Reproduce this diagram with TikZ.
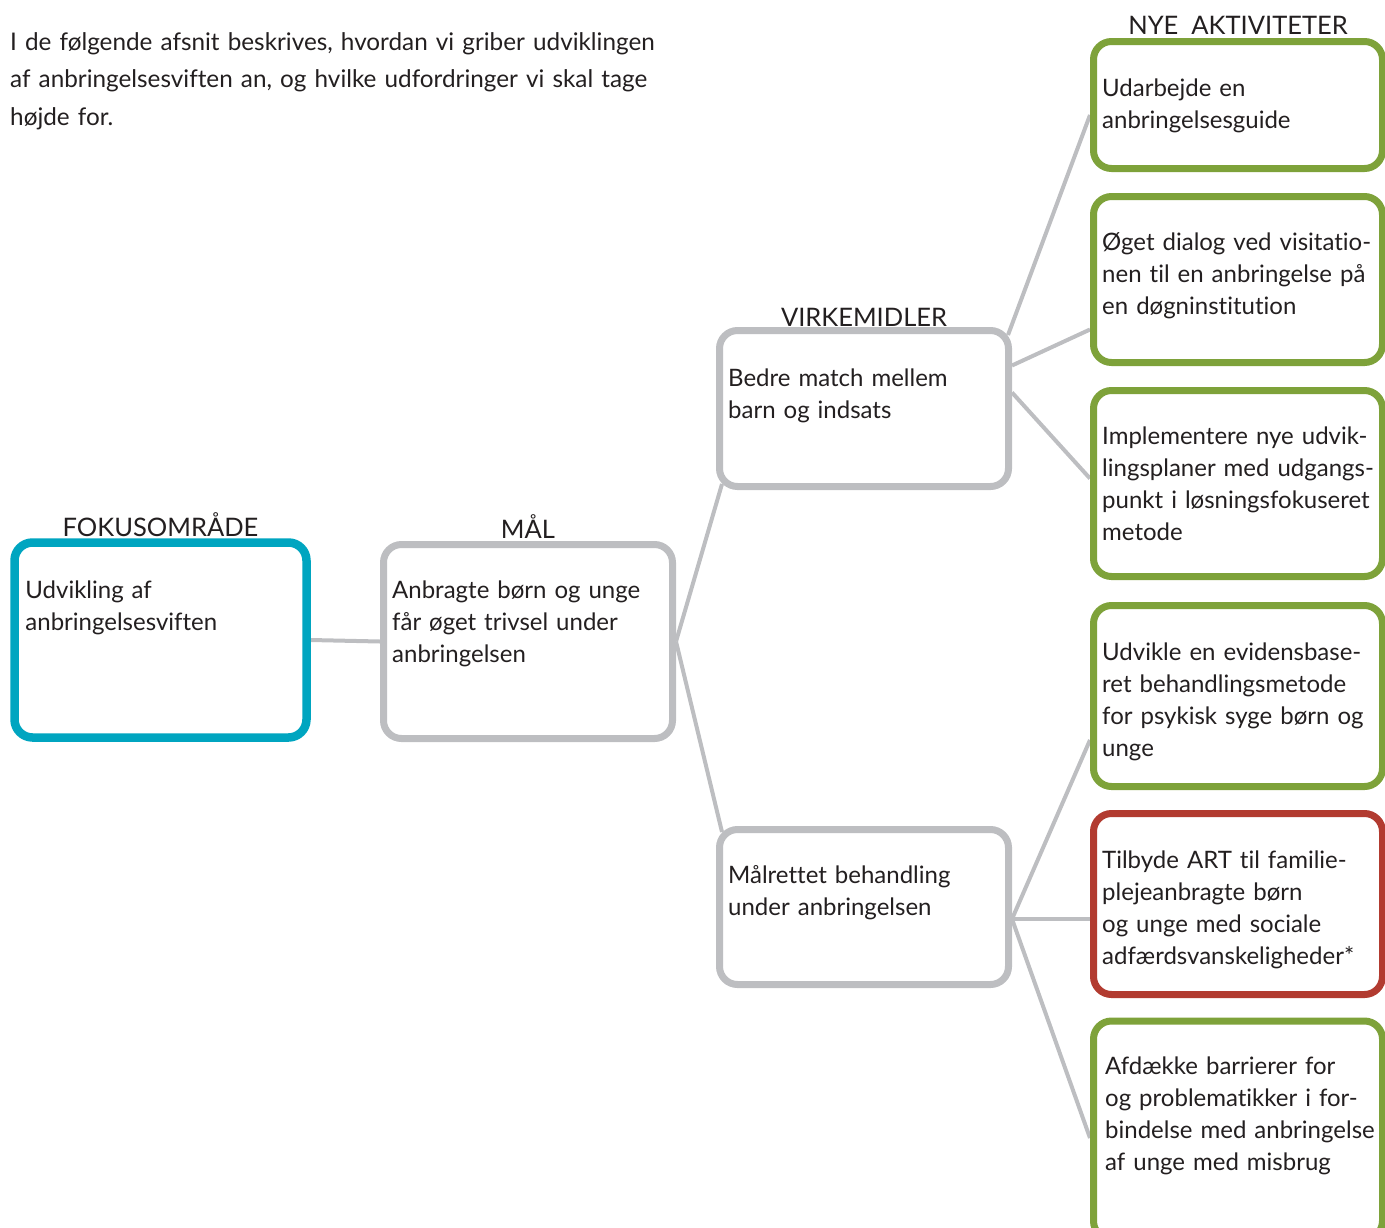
\documentclass[tikz,border=0pt]{standalone}
\usepackage{fontspec}
\setmainfont{Lato}[Ligatures={NoCommon}]
\usepackage{tikz}
\usetikzlibrary{positioning,calc,backgrounds}
\definecolor{fokusblue}{RGB}{0,165,192}
\definecolor{boxgray}{RGB}{189,190,193}
\definecolor{aktgreen}{RGB}{126,162,58}
\definecolor{aktred}{RGB}{178,59,48}
\definecolor{textdark}{RGB}{35,31,32}

\begin{document}
\begin{tikzpicture}[x=1pt,y=-1pt]
  \tikzstyle{mythick}=[line width=7pt];
  \tikzstyle{box}=[draw=boxgray,fill=white,rounded corners=18pt,mythick,minimum width=289pt,inner sep=0pt]
  \tikzstyle{fbox}=[box,draw=fokusblue,line width=8.5pt,minimum width=292pt]
  \tikzstyle{gbox}=[box,draw=aktgreen]
  \tikzstyle{rbox}=[box,draw=aktred]
  \tikzstyle{ed}=[draw=boxgray,line width=4pt]
  \tikzstyle{txt}=[anchor=base west,inner sep=0pt,text=textdark,text width=300pt,align=left,font=\fontsize{24}{32}\selectfont]
  \tikzstyle{hd}=[anchor=base,inner sep=0pt,text=textdark,font=\fontsize{25.5}{32}\selectfont]
  \useasboundingbox (0,0) rectangle (1385,1227);
  % intro
  \node [txt,text width=700pt,font=\fontsize{24.3}{37.5}\selectfont] (intro) at (10,50)
    {I de følgende afsnit beskrives, hvordan vi griber udviklingen\\af anbringelsesviften an, og hvilke udfordringer vi skal tage\\højde for.};
  % boxes
  \node [fbox,minimum height=195pt] (fokus) at (160.5,640) {};
  \node [box,minimum height=194pt] (maal) at (528,641.5) {};
  \node [box,minimum height=156pt] (virk1) at (864,408.5) {};
  \node [box,minimum height=155pt] (virk2) at (864,907) {};
  \node [gbox,minimum height=127pt] (akt1) at (1238,105) {};
  \node [gbox,minimum height=166pt] (akt2) at (1238,279.5) {};
  \node [gbox,minimum height=186pt] (akt3) at (1238,483.5) {};
  \node [gbox,minimum height=181pt] (akt4) at (1238,696) {};
  \node [rbox,minimum height=181pt] (akt5) at (1238,904) {};
  \node [gbox,minimum height=218pt] (akt6) at (1238,1130) {};
  % headings
  \node [hd] (fokushd) at ([yshift=2pt]fokus.north) {FOKUSOMRÅDE};
  \node [hd] (maalhd) at ([yshift=3pt]maal.north) {MÅL};
  \node [hd] (virkhd) at ([yshift=1pt]virk1.north) {VIRKEMIDLER};
  \node [hd] (akthd) at ([yshift=4pt]akt1.north) {NYE\ \ AKTIVITETER};
  % texts
  \node [txt] (fokustxt) at ([xshift=15pt,yshift=-60pt]fokus.north west) {Udvikling af\\anbringelsesviften};
  \node [txt] (maaltxt) at ([xshift=12pt,yshift=-57pt]maal.north west) {Anbragte børn og unge\\får øget trivsel under\\anbringelsen};
  \node [txt] (virk1txt) at ([xshift=12pt,yshift=-59pt]virk1.north west) {Bedre match mellem\\barn og indsats};
  \node [txt] (virk2txt) at ([xshift=12pt,yshift=-57pt]virk2.north west) {Målrettet behandling\\under anbringelsen};
  \node [txt] (akt1txt) at ([xshift=12pt,yshift=-58pt]akt1.north west) {Udarbejde en\\anbringelsesguide};
  \node [txt] (akt2txt) at ([xshift=12pt,yshift=-57pt]akt2.north west) {Øget dialog ved visitatio-\\nen til en anbringelse på\\en døgninstitution};
  \node [txt] (akt3txt) at ([xshift=12pt,yshift=-57pt]akt3.north west) {Implementere nye udvik-\\lingsplaner med udgangs-\\punkt i løsningsfokuseret\\metode};
  \node [txt] (akt4txt) at ([xshift=12pt,yshift=-58pt]akt4.north west) {Udvikle en evidensbase-\\ret behandlingsmetode\\for psykisk syge børn og\\unge};
  \node [txt] (akt5txt) at ([xshift=12pt,yshift=-58pt]akt5.north west) {Tilbyde ART til familie-\\plejeanbragte børn\\og unge med sociale\\adfærdsvanskeligheder*};
  \node [txt] (akt6txt) at ([xshift=15pt,yshift=-57pt]akt6.north west) {Afdække barrierer for\\og problematikker i for-\\bindelse med anbringelse\\af unge med misbrug};
  % connectors
  \begin{scope}[on background layer]
  \coordinate (fan) at ([yshift=-12pt]virk2.east);
  \draw [ed] (fokus.east) -- (maal.west);
  \draw [ed] (maal.east) -- ([xshift=6pt,yshift=6pt]virk1.south west);
  \draw [ed] (maal.east) -- ([xshift=6pt,yshift=-6pt]virk2.north west);
  \draw [ed] ([xshift=-4pt,yshift=-8pt]virk1.north east) -- ([yshift=-10pt]akt1.west);
  \draw [ed] ([yshift=43pt]virk1.east) -- ([yshift=-50pt]akt2.west);
  \draw [ed] ([yshift=16pt]virk1.east) -- ([yshift=5pt]akt3.west);
  \draw [ed] (fan) -- ([yshift=-44pt]akt4.west);
  \draw [ed] (fan) -- (fan -| akt5.west);
  \draw [ed] (fan) -- ([yshift=-8pt]akt6.west);
  \end{scope}
\end{tikzpicture}
\end{document}
